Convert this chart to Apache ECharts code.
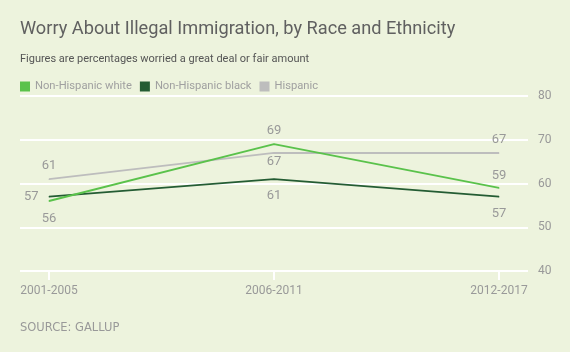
<!DOCTYPE html>
<html>
<head>
<meta charset="utf-8">
<script src="https://cdn.jsdelivr.net/npm/echarts@6/dist/echarts.min.js"></script>
<style>
  html, body { margin: 0; padding: 0; background: #edf3dd; }
  #chart { width: 570px; height: 352px; }
</style>
</head>
<body>
<div id="chart"></div>
<script>
var periods = ['2001-2005', '2006-2011', '2012-2017'];
var seriesNames = ['Non-Hispanic white', 'Non-Hispanic black', 'Hispanic'];
var whiteVals = [56, 69, 59];
var blackVals = [57, 61, 57];
var hispanicVals = [61, 67, 67];
var yTicks = [40, 50, 60, 70, 80];

// where each point's label sits: [position, distance]
var whiteLabels = [['bottom', 11], ['top', 6], ['top', 5]];
var blackLabels = [['left', 10], ['bottom', 10], ['bottom', 10]];
var hispanicLabels = [['top', 6], ['bottom', 2], ['top', 6]];

var gray = '#999999';
var fontName = 'Roboto, "Open Sans", sans-serif';

function withLabels(vals, pos) {
    return vals.map(function (v, i) {
        return { value: v, label: { position: pos[i][0], distance: pos[i][1] } };
    });
}

function lineSeries(name, vals, pos, color, z) {
    return {
        name: name,
        type: 'line',
        xAxisIndex: 0,
        yAxisIndex: 0,
        data: withLabels(vals, pos),
        symbol: 'circle',
        symbolSize: 1,
        showSymbol: true,
        z: z,
        itemStyle: { color: color },
        lineStyle: { color: color, width: 2 },
        label: { show: true, color: gray, fontSize: 13, fontFamily: fontName },
        emphasis: { disabled: true }
    };
}

var myChart = echarts.init(document.getElementById('chart'));
var option = {
    backgroundColor: '#edf3dd',
    animation: false,
    color: ['#5ac24b', '#245c33', '#bdbdbd'],
    title: [
        {
            text: 'Worry About Illegal Immigration, by Race and Ethnicity',
            left: 20, top: 20, padding: 0,
            textStyle: { color: '#606060', fontSize: 18.2, fontWeight: 'normal', fontFamily: fontName }
        },
        {
            text: 'Figures are percentages worried a great deal or fair amount',
            left: 20, top: 54, padding: 0,
            textStyle: { color: '#555555', fontSize: 11, fontWeight: 'normal', fontFamily: fontName }
        },
        {
            text: 'SOURCE: GALLUP',
            left: 20, top: 322, padding: 0,
            textStyle: { color: gray, fontSize: 11.5, fontWeight: 'normal', fontFamily: '"DejaVu Sans", sans-serif' }
        }
    ],
    legend: {
        left: 20, top: 81, padding: 0,
        icon: 'rect',
        itemWidth: 10, itemHeight: 10, itemGap: 8,
        textStyle: { color: '#a0a0a0', fontSize: 11.2, fontFamily: fontName },
        data: seriesNames
    },
    grid: [
        { left: 49, right: 71, top: 96, bottom: 81 },
        { left: 20, right: 42, top: 96, bottom: 81 }
    ],
    xAxis: [
        {
            type: 'category', gridIndex: 0, data: periods, boundaryGap: false,
            axisLine: { show: false },
            axisTick: { show: true, length: 9, lineStyle: { color: '#ffffff', width: 2 } },
            axisLabel: { color: gray, fontSize: 12, margin: 14, fontFamily: fontName }
        },
        { type: 'value', gridIndex: 1, show: false }
    ],
    yAxis: [
        { type: 'value', gridIndex: 0, min: yTicks[0], max: yTicks[yTicks.length - 1], interval: 10, show: false },
        {
            type: 'value', gridIndex: 1, position: 'right',
            min: yTicks[0], max: yTicks[yTicks.length - 1], interval: 10,
            axisLine: { show: false }, axisTick: { show: false },
            splitLine: { lineStyle: { color: '#ffffff', width: 2 } },
            axisLabel: { color: gray, fontSize: 12, margin: 10, fontFamily: fontName }
        }
    ],
    series: [
        lineSeries(seriesNames[0], whiteVals, whiteLabels, '#5ac24b', 4),
        lineSeries(seriesNames[1], blackVals, blackLabels, '#245c33', 3),
        lineSeries(seriesNames[2], hispanicVals, hispanicLabels, '#bdbdbd', 2)
    ]
};
myChart.setOption(option);
</script>
</body>
</html>
